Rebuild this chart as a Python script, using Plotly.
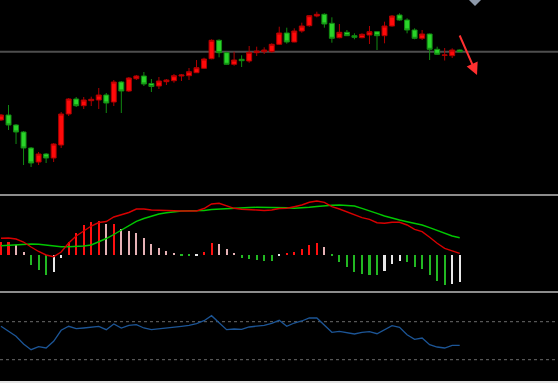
import plotly.graph_objects as go

W, H = 558, 383

# ---------------- data ----------------
open_ = [80, 85, 75, 68, 52, 38, 46, 42, 55, 86,
         101, 94.3, 99.3, 100, 105, 98, 118, 109, 121.3, 124,
         116.5, 114, 118.3, 119.3, 124, 124.3, 127.3, 131.7, 141.3, 159.7,
         147.3, 135.7, 140.7, 139, 147.3, 148.3, 148.3, 155.7, 167, 158,
         169, 174.3, 184, 185.7, 176.7, 162.3, 167.7, 164.3, 162.3, 165,
         168.3, 164.3, 174, 185, 180, 170, 161.7, 166, 150.7, 144.7,
         144.3, 150]
high = [86, 95, 76, 69, 53, 48, 47, 57, 88, 102,
        103, 103, 103.3, 112, 107, 120, 119, 123, 125, 128,
        121, 123, 121, 126, 126, 132, 140, 142.3, 160.7, 160.7,
        148.3, 148.3, 144.7, 154, 153.3, 152.7, 156.7, 173.3, 172.3, 171.7,
        177.3, 185, 188.3, 186.7, 182.7, 176, 170, 166.7, 166.7, 174,
        168.5, 178.3, 185, 186.7, 181.7, 171.7, 170, 166.5, 153.3, 152,
        151.7, 150.5]
low = [79, 70, 56, 35, 33, 35, 37, 38, 52, 84,
       93, 91, 94, 91, 87, 94, 87, 108, 120, 114,
       108, 111, 115, 117.3, 119, 120, 127, 131, 140.7, 142.7,
       135.3, 134.3, 133, 137.3, 144, 146, 147.3, 155, 156.3, 157.7,
       167.3, 173.3, 182.7, 172.3, 157.3, 161.7, 164, 160.7, 161.7, 156,
       150, 156.7, 173.3, 179.3, 166.7, 160.7, 160, 140, 145, 139.5,
       142, 148]
close = [85, 75, 68, 52, 37, 46, 42, 56, 86, 101,
         94.3, 100, 100.7, 105, 97, 118, 109, 122, 124, 116,
         113.5, 119, 120, 124.3, 125, 128.3, 132.3, 141, 159.7, 147.3,
         135.7, 140, 139.3, 147.7, 149, 150, 155.7, 167, 158, 169,
         174, 184.3, 185.7, 176, 161.7, 167.7, 164.3, 162.7, 165.7, 168.3,
         164.3, 174, 184, 180, 170, 161.7, 166, 150.7, 145.7, 145,
         150, 148.3]

dif = [16.2, 16.5, 15.5, 12.5, 7.5, 3.0, -0.5, -2.2, 2.5, 11.5,
       18.5, 23.5, 28.5, 32.0, 33.0, 37.5, 39.5, 42.0, 45.5, 45.5,
       44.5, 44.5, 43.8, 43.8, 43.5, 43.5, 43.5, 46.0, 50.5, 51.2,
       48.5, 46.2, 45.2, 44.5, 44.5, 44.0, 44.5, 46.0, 46.2, 47.8,
       49.5, 52.2, 53.5, 52.2, 47.8, 45.5, 42.8, 39.5, 36.8, 35.2,
       31.8, 31.2, 32.2, 32.2, 29.5, 25.2, 22.8, 17.2, 11.2, 6.2,
       3.5, 1.2]
dea = [8.8, 9.2, 9.8, 10.5, 10.5, 10.2, 9.5, 8.2, 7.8, 7.8,
       7.8, 8.5, 9.5, 12.5, 16.0, 20.0, 24.2, 29.0, 33.2, 36.0,
       38.5, 40.5, 41.8, 42.8, 43.5, 43.8, 43.8, 44.0, 45.0, 45.5,
       46.2, 46.5, 46.8, 47.0, 47.2, 47.2, 47.2, 47.2, 46.7, 46.2,
       46.5, 47.2, 48.0, 48.8, 49.2, 49.5, 48.8, 48.5, 46.2, 44.0,
       41.2, 38.5, 36.2, 34.5, 32.8, 31.2, 29.5, 26.8, 23.8, 21.2,
       18.5, 16.8]
macd_hist = [12.5, 12.8, 9.5, 2.2, -10.5, -15.5, -20.5, -17.8, -3.8, 12.8,
             21.2, 29.5, 32.8, 33.5, 30.2, 30.5, 25.2, 23.5, 21.8, 16.8,
             10.5, 6.8, 3.5, 1.8, -1.0, -1.3, -0.8, 2.8, 11.2, 10.8,
             5.5, 1.8, -3.3, -4.2, -5.2, -6.5, -6.7, -1.5, 0.6, 2.8,
             5.5, 9.5, 11.2, 7.8, -1.3, -7.2, -12.2, -17.2, -19.8, -20.5,
             -20.7, -16.5, -9.5, -6.2, -7.8, -12.2, -14.5, -20.5, -26.5, -30.5,
             -29.8, -27.8]
osc = [56.7, 51.3, 46.7, 39.0, 33.3, 36.3, 35.0, 41.7, 52.7, 56.7,
       54.3, 55.0, 55.7, 56.7, 53.3, 59.0, 55.0, 57.7, 58.3, 55.0,
       53.3, 54.0, 55.0, 56.0, 56.7, 57.7, 59.3, 62.3, 67.3, 60.3,
       53.3, 54.0, 53.7, 56.0, 56.7, 57.7, 59.7, 62.7, 56.7, 60.0,
       62.0, 65.0, 65.0, 58.3, 50.7, 51.7, 50.7, 49.0, 50.7, 51.3,
       49.3, 53.0, 57.3, 55.7, 48.3, 43.7, 45.0, 38.3, 36.0, 35.0,
       37.7, 37.7]

support_level = 148.3
osc_upper = 61.3
osc_lower = 23.3

x = list(range(len(close)))

# ---------------- styles ----------------
RED = "#ff1010"
PINK = "#e6b2b6"
GREEN = "#22b822"
WHITE = "#e8e8e8"

hist_colors = []
prev = None
for v in macd_hist:
    if v >= 0:
        c = RED if (prev is None or v >= prev) else PINK
    else:
        c = GREEN if (prev is None or v <= prev) else WHITE
    hist_colors.append(c)
    prev = v


def px_x(p):
    return p / W


def px_y(p):
    return (H - p) / H


fig = go.Figure()

fig.add_trace(go.Candlestick(
    x=x, open=open_, high=high, low=low, close=close,
    increasing=dict(line=dict(color="#b00000", width=1), fillcolor="#ff0a0a"),
    decreasing=dict(line=dict(color="#128a12", width=1), fillcolor="#2ad42a"),
    whiskerwidth=0, xaxis="x", yaxis="y", showlegend=False, hoverinfo="skip",
))

fig.add_trace(go.Bar(
    x=x, y=macd_hist, marker=dict(color=hist_colors, line=dict(width=0)),
    width=0.28, xaxis="x", yaxis="y2", showlegend=False, hoverinfo="skip",
))
fig.add_trace(go.Scatter(
    x=x, y=dea, mode="lines", line=dict(color="#00c800", width=1.4),
    xaxis="x", yaxis="y2", showlegend=False, hoverinfo="skip",
))
fig.add_trace(go.Scatter(
    x=x, y=dif, mode="lines", line=dict(color="#d80000", width=1.4),
    xaxis="x", yaxis="y2", showlegend=False, hoverinfo="skip",
))

fig.add_trace(go.Scatter(
    x=x, y=osc, mode="lines", line=dict(color="#1c5596", width=1.3),
    xaxis="x", yaxis="y3", showlegend=False, hoverinfo="skip",
))

shapes = [
    dict(type="line", xref="paper", x0=0, x1=1, yref="y", y0=support_level, y1=support_level,
         line=dict(color="#4e4e4e", width=2), layer="below"),
    dict(type="line", xref="paper", x0=0, x1=1, yref="y3", y0=osc_upper, y1=osc_upper,
         line=dict(color="#6a6a6a", width=1, dash="dot"), layer="below"),
    dict(type="line", xref="paper", x0=0, x1=1, yref="y3", y0=osc_lower, y1=osc_lower,
         line=dict(color="#6a6a6a", width=1, dash="dot"), layer="below"),
    dict(type="line", xref="paper", x0=0, x1=1, yref="paper", y0=px_y(195), y1=px_y(195),
         line=dict(color="#8c8c8c", width=2)),
    dict(type="line", xref="paper", x0=0, x1=1, yref="paper", y0=px_y(292), y1=px_y(292),
         line=dict(color="#8c8c8c", width=2)),
    dict(type="rect", xref="paper", yref="paper", x0=0, x1=1, y0=0, y1=px_y(381),
         fillcolor="#e4e4e4", line=dict(width=0)),
    dict(type="path", xref="paper", yref="paper",
         path=f"M {px_x(469)} {px_y(0)} L {px_x(481)} {px_y(0)} L {px_x(475)} {px_y(6)} Z",
         fillcolor="#8d99aa", line=dict(width=0)),
]

annotations = [
    dict(xref="paper", yref="paper", x=px_x(477), y=px_y(75), ax=-18, ay=-41,
         text="", showarrow=True, arrowhead=2, arrowsize=1.2, arrowwidth=2,
         arrowcolor="#ff3030"),
]

axis_off = dict(visible=False, showgrid=False, zeroline=False, fixedrange=True)

fig.update_layout(
    width=W, height=H,
    margin=dict(l=0, r=0, t=0, b=0),
    paper_bgcolor="#000000", plot_bgcolor="#000000",
    boxmode="overlay",
    boxgap=0.34,
    boxgroupgap=0,
    bargap=0,
    xaxis=dict(domain=[0, 1], range=[-0.133, 74.07], rangeslider=dict(visible=False), **axis_off),
    yaxis=dict(domain=[px_y(195), 1], range=[5, 200], **axis_off),
    yaxis2=dict(domain=[px_y(291), px_y(197)], range=[-36.5, 57.5], **axis_off),
    yaxis3=dict(domain=[0, px_y(294)], range=[0, 89], **axis_off),
    shapes=shapes,
    annotations=annotations,
    showlegend=False,
)

fig.write_html("out.html", config={"displayModeBar": False},
               post_script="document.body.style.margin='0';")
